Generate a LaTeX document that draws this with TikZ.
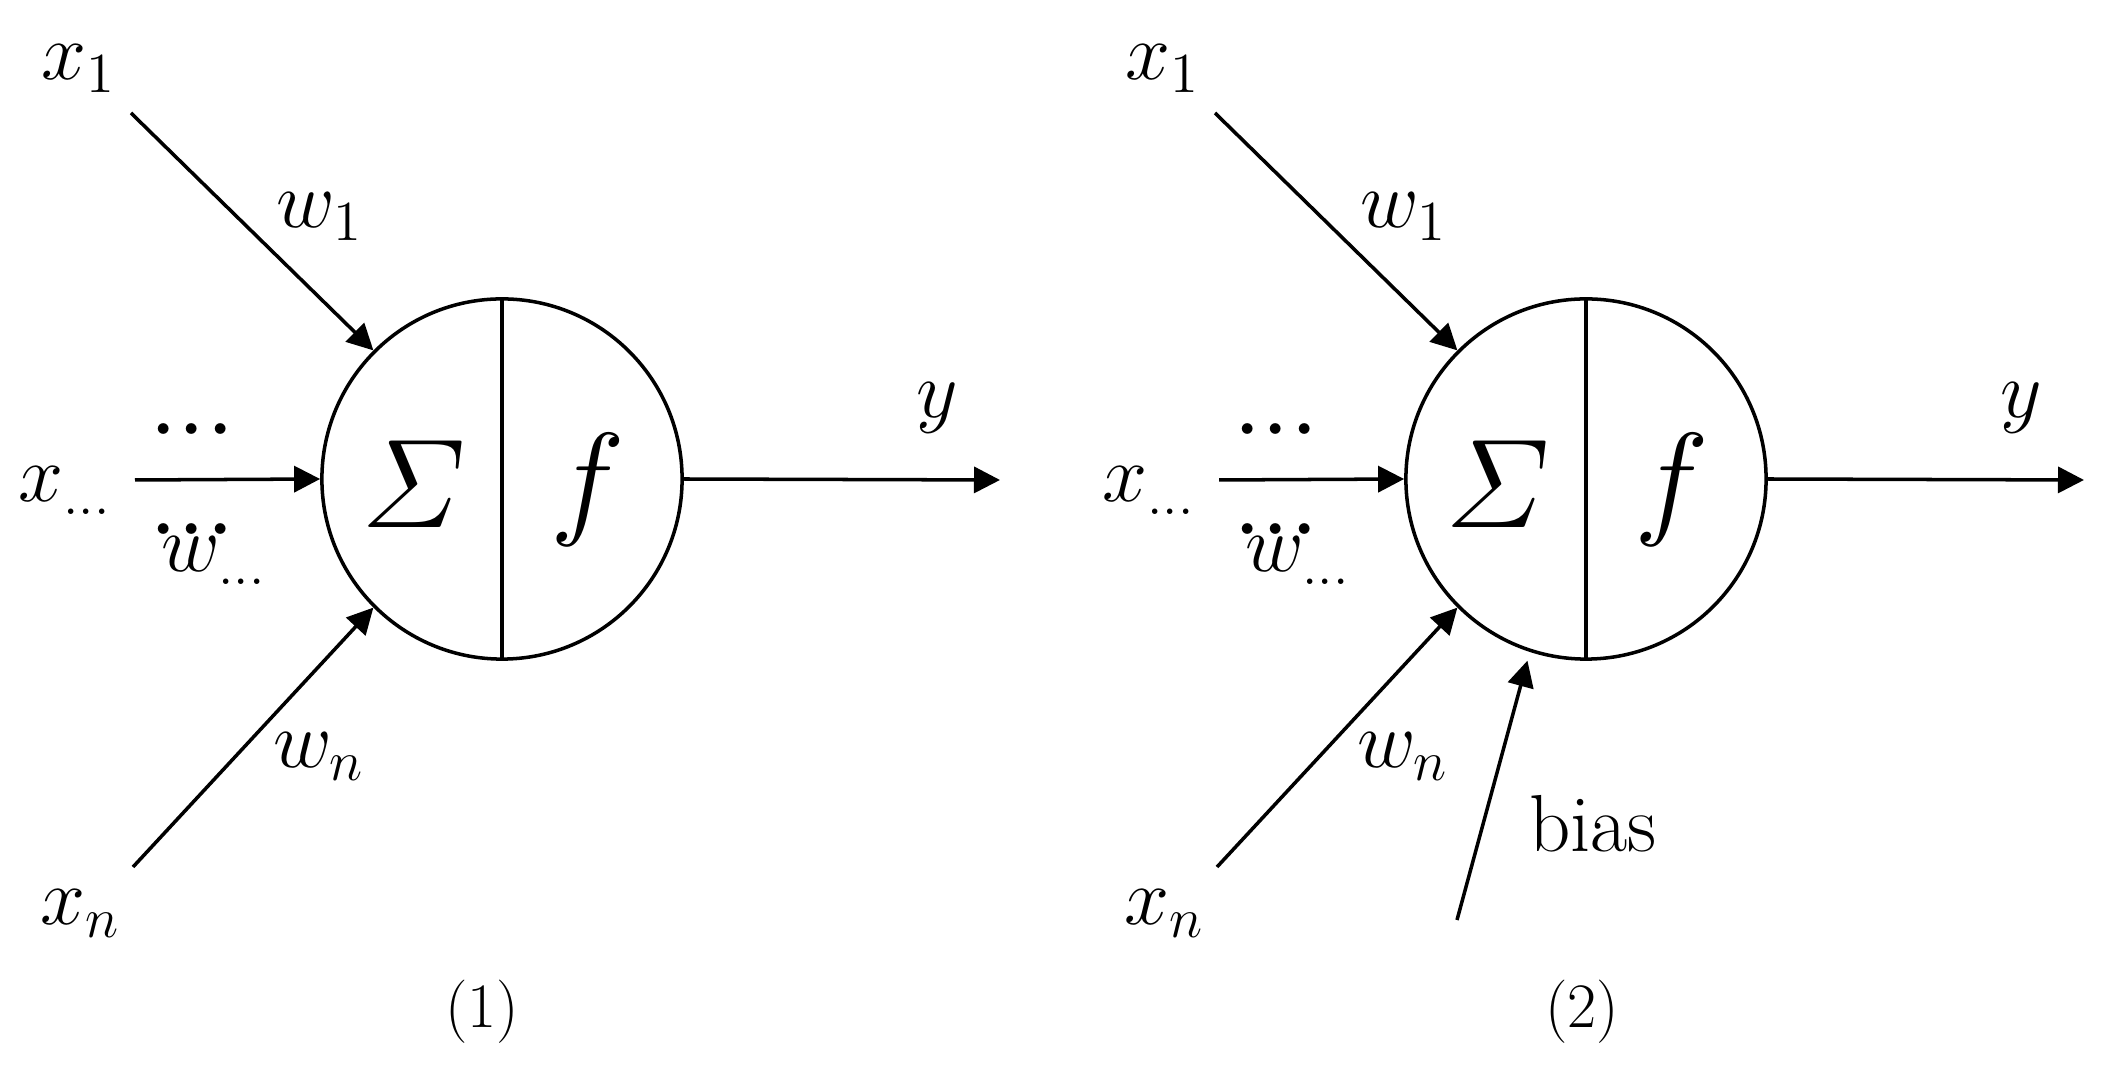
\RequirePackage{fix-cm}
\documentclass[tikz,border=0pt]{standalone}
\usepackage{amsmath}
\usetikzlibrary{arrows.meta}

\begin{document}
\begin{tikzpicture}[
    x=0.01cm, y=-0.01cm,
    line width=1pt,
    lbl/.style={inner sep=0, anchor=base, font=\fontsize{23}{28}\selectfont},
    dotlbl/.style={inner sep=0, anchor=base, font=\fontsize{29}{34}\selectfont},
    op/.style={inner sep=0, font=\fontsize{36}{42}\selectfont},
    capt/.style={inner sep=0, font=\fontsize{18}{22}\selectfont},
    neuron/.style={draw, circle, minimum size=3.6cm, inner sep=0},
    arr/.style={-{Triangle[length=0.26cm, width=0.26cm]}}
  ]
  \useasboundingbox (0,0) rectangle (2111,1086);

  % (1) neuron without bias
  \node[neuron] (nA) at (502,479) {};
  \draw (nA.north) -- (nA.south);
  \node[op] (sumA) at (414,484) {$\varSigma$};
  \node[op] (actA) at (588,490) {$f$};

  \coordinate (in1A) at (131,113);
  \coordinate (inmA) at (135,480);
  \coordinate (innA) at (133,867);
  \coordinate (outA) at (1000,480);
  \draw[arr] (in1A) -- (nA.135);
  \draw[arr] (inmA) -- (nA.west);
  \draw[arr] (innA) -- (nA.225);
  \draw[arr] (nA.east) -- (outA);

  \node[lbl] (x1A) at (79,80) {$x_{1}$};
  \node[lbl] (w1A) at (320,228) {$w_{1}$};
  \node[lbl] (xmA) at (65,502) {$x_{\ldots}$};
  \node[dotlbl] (dtA) at (192,455) {${\cdotp}{\cdotp}{\cdotp}$};
  \node[dotlbl] (dbA) at (192,555) {${\cdotp}{\cdotp}{\cdotp}$};
  \node[lbl] (wmA) at (214,572) {$w_{\ldots}$};
  \node[lbl] (xnA) at (80,925) {$x_{n}$};
  \node[lbl] (wnA) at (319,768) {$w_{n}$};
  \node[lbl] (yA) at (937,418) {$y$};
  \node[capt] (capA) at (482,1012) {(1)};

  % (2) neuron with bias
  \node[neuron] (nB) at (1586,479) {};
  \draw (nB.north) -- (nB.south);
  \node[op] (sumB) at (1498,484) {$\varSigma$};
  \node[op] (actB) at (1672,490) {$f$};

  \coordinate (in1B) at (1215,113);
  \coordinate (inmB) at (1219,480);
  \coordinate (innB) at (1217,867);
  \coordinate (outB) at (2084,480);
  \coordinate (biasB) at (1457,920);
  \draw[arr] (in1B) -- (nB.135);
  \draw[arr] (inmB) -- (nB.west);
  \draw[arr] (innB) -- (nB.225);
  \draw[arr] (nB.east) -- (outB);
  \draw[arr, shorten >=0.09cm] (biasB) -- (nB.252);

  \node[lbl] (x1B) at (1163,80) {$x_{1}$};
  \node[lbl] (w1B) at (1404,228) {$w_{1}$};
  \node[lbl] (xmB) at (1149,502) {$x_{\ldots}$};
  \node[dotlbl] (dtB) at (1276,455) {${\cdotp}{\cdotp}{\cdotp}$};
  \node[dotlbl] (dbB) at (1276,555) {${\cdotp}{\cdotp}{\cdotp}$};
  \node[lbl] (wmB) at (1298,572) {$w_{\ldots}$};
  \node[lbl] (xnB) at (1164,925) {$x_{n}$};
  \node[lbl] (wnB) at (1403,768) {$w_{n}$};
  \node[lbl] (yB) at (2021,418) {$y$};
  \node[lbl] (biasL) at (1593,852) {bias};
  \node[capt] (capB) at (1582,1012) {(2)};
\end{tikzpicture}
\end{document}
